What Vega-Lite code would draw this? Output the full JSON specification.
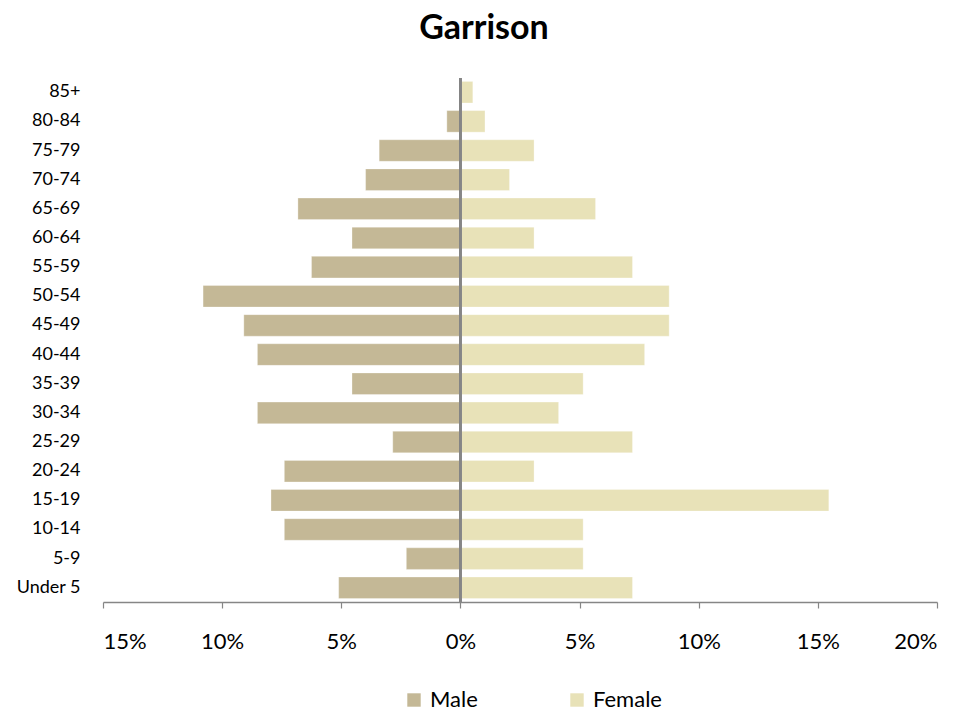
{
  "$schema": "https://vega.github.io/schema/vega-lite/v6.json",
  "width": 834,
  "height": 524,
  "autosize": "none",
  "padding": {"left": 103, "top": 78, "right": 42, "bottom": 111},
  "background": "white",
  "config": {"view": {"stroke": null}, "font": "Lato"},
  "title": {"text": "Garrison", "fontSize": 34, "fontWeight": "bold", "font": "Lato", "color": "black", "anchor": "middle", "dx": -36, "offset": 31},
  "data": {"values": [
    {"age": "85+", "sex": "Male", "pct": 0},
    {"age": "85+", "sex": "Female", "pct": 0.52},
    {"age": "80-84", "sex": "Male", "pct": -0.57},
    {"age": "80-84", "sex": "Female", "pct": 1.03},
    {"age": "75-79", "sex": "Male", "pct": -3.41},
    {"age": "75-79", "sex": "Female", "pct": 3.09},
    {"age": "70-74", "sex": "Male", "pct": -3.98},
    {"age": "70-74", "sex": "Female", "pct": 2.06},
    {"age": "65-69", "sex": "Male", "pct": -6.82},
    {"age": "65-69", "sex": "Female", "pct": 5.67},
    {"age": "60-64", "sex": "Male", "pct": -4.55},
    {"age": "60-64", "sex": "Female", "pct": 3.09},
    {"age": "55-59", "sex": "Male", "pct": -6.25},
    {"age": "55-59", "sex": "Female", "pct": 7.22},
    {"age": "50-54", "sex": "Male", "pct": -10.8},
    {"age": "50-54", "sex": "Female", "pct": 8.76},
    {"age": "45-49", "sex": "Male", "pct": -9.09},
    {"age": "45-49", "sex": "Female", "pct": 8.76},
    {"age": "40-44", "sex": "Male", "pct": -8.52},
    {"age": "40-44", "sex": "Female", "pct": 7.73},
    {"age": "35-39", "sex": "Male", "pct": -4.55},
    {"age": "35-39", "sex": "Female", "pct": 5.15},
    {"age": "30-34", "sex": "Male", "pct": -8.52},
    {"age": "30-34", "sex": "Female", "pct": 4.12},
    {"age": "25-29", "sex": "Male", "pct": -2.84},
    {"age": "25-29", "sex": "Female", "pct": 7.22},
    {"age": "20-24", "sex": "Male", "pct": -7.39},
    {"age": "20-24", "sex": "Female", "pct": 3.09},
    {"age": "15-19", "sex": "Male", "pct": -7.95},
    {"age": "15-19", "sex": "Female", "pct": 15.46},
    {"age": "10-14", "sex": "Male", "pct": -7.39},
    {"age": "10-14", "sex": "Female", "pct": 5.15},
    {"age": "5-9", "sex": "Male", "pct": -2.27},
    {"age": "5-9", "sex": "Female", "pct": 5.15},
    {"age": "Under 5", "sex": "Male", "pct": -5.11},
    {"age": "Under 5", "sex": "Female", "pct": 7.22}
  ]},
  "layer": [
    {
      "mark": {"type": "bar", "stroke": "white", "strokeWidth": 0.5, "strokeOpacity": 0.6},
      "encoding": {
        "y": {
          "field": "age", "type": "nominal",
          "sort": ["85+", "80-84", "75-79", "70-74", "65-69", "60-64", "55-59", "50-54", "45-49", "40-44", "35-39", "30-34", "25-29", "20-24", "15-19", "10-14", "5-9", "Under 5"],
          "scale": {"paddingInner": 0.26, "paddingOuter": 0.118},
          "axis": {"title": null, "domain": false, "ticks": false, "labelPadding": 23, "labelFontSize": 18, "labelColor": "black", "labelFont": "Lato"}
        },
        "x": {
          "field": "pct", "type": "quantitative",
          "scale": {"domain": [-15, 20], "nice": false, "zero": false},
          "axis": {"title": null, "values": [-15, -10, -5, 0, 5, 10, 15, 20], "labelExpr": "abs(datum.value) + '%'", "grid": false, "domainColor": "#868686", "domainWidth": 1.5, "tickColor": "#868686", "tickSize": 6, "tickWidth": 1.2, "labelFontSize": 22, "labelColor": "black", "labelPadding": 23, "labelFont": "Lato"}
        },
        "color": {
          "field": "sex", "type": "nominal",
          "scale": {"domain": ["Male", "Female"], "range": ["#C4B896", "#E8E2B8"]},
          "legend": {"title": null, "orient": "none", "direction": "horizontal", "legendX": 300, "legendY": 611, "symbolType": "square", "symbolSize": 180, "symbolStrokeWidth": 0, "labelFontSize": 22, "labelColor": "black", "labelFont": "Lato", "columnPadding": 88, "labelOffset": 5, "padding": 0}
        }
      }
    },
    {
      "mark": {"type": "rule", "color": "#868686", "strokeWidth": 1.5},
      "encoding": {"x": {"datum": 0}}
    }
  ]
}
